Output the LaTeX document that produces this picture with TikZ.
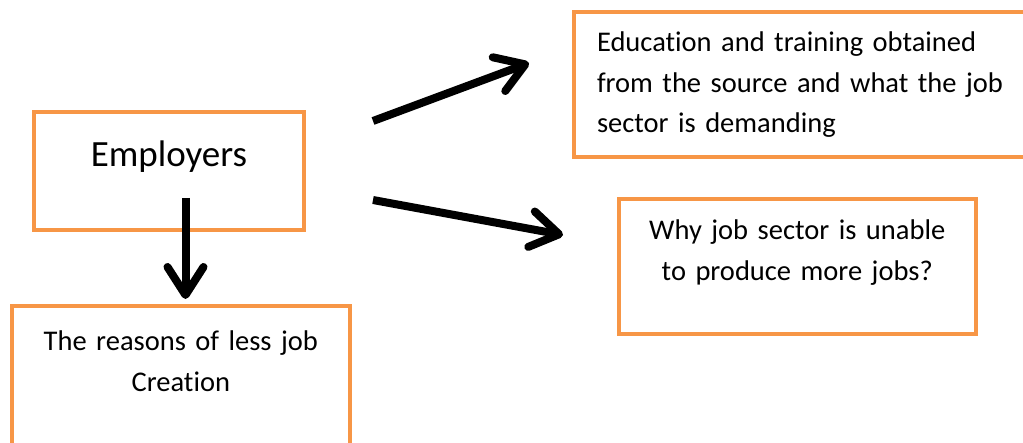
\documentclass[tikz,border=0pt]{standalone}
\usepackage{fontspec}
\setmainfont{Carlito}[Ligatures=NoCommon]
\usepackage{xcolor}
\usepackage{tikz}
\usetikzlibrary{arrows.meta,positioning}
\definecolor{boxorange}{RGB}{247,150,70}
\tikzset{
  jobbox/.style={
    rectangle,
    draw=boxorange,
    line width=4pt,
    fill=white,
    anchor=north west,
    outer sep=0pt,
    inner xsep=0pt,
    inner ysep=0pt,
    align=center,
    font=\fontsize{28.5pt}{40.5pt}\selectfont
  },
  jobarrow/.style={
    -{Straight Barb[length=28pt,width=36pt,round]},
    line width=8pt,
    draw=black
  }
}
\begin{document}
\begin{tikzpicture}[x=1pt,y=-1pt]
\useasboundingbox (0,0) rectangle (1023,443);
\fill[white] (0,0) rectangle (1023,443);

\node[jobbox, text width=270pt, text height=55pt, text depth=63.3pt,
  font=\fontsize{37pt}{43pt}\selectfont] (empl) at (34,111.7) {Employers};
\node[jobbox, align=left, inner xsep=23pt, text width=420pt,
  text height=39.5pt, text depth=105.5pt] (edu) at (574,12.5)
  {Education and training obtained from the source and what the job sector is demanding};
\node[jobbox, text width=356.5pt, text height=41pt, text depth=94pt] (why) at (619,199)
  {Why job sector is unable\\to produce more jobs?};
\node[jobbox, text width=338.3pt, text height=45pt, text depth=109pt] (reasons) at (11.7,306)
  {The reasons of less job\\Creation};

\coordinate (eduTail) at (373,121);
\coordinate (eduTip) at (529,63);
\coordinate (whyTail) at (373,200);
\coordinate (whyTip) at (563,235);
\coordinate (reasonsTail) at (185.5,198);
\coordinate (reasonsTip) at (185.5,299);

\draw[jobarrow] (eduTail) -- (eduTip);
\draw[jobarrow] (whyTail) -- (whyTip);
\draw[jobarrow] (reasonsTail) -- (reasonsTip);
\end{tikzpicture}
\end{document}
